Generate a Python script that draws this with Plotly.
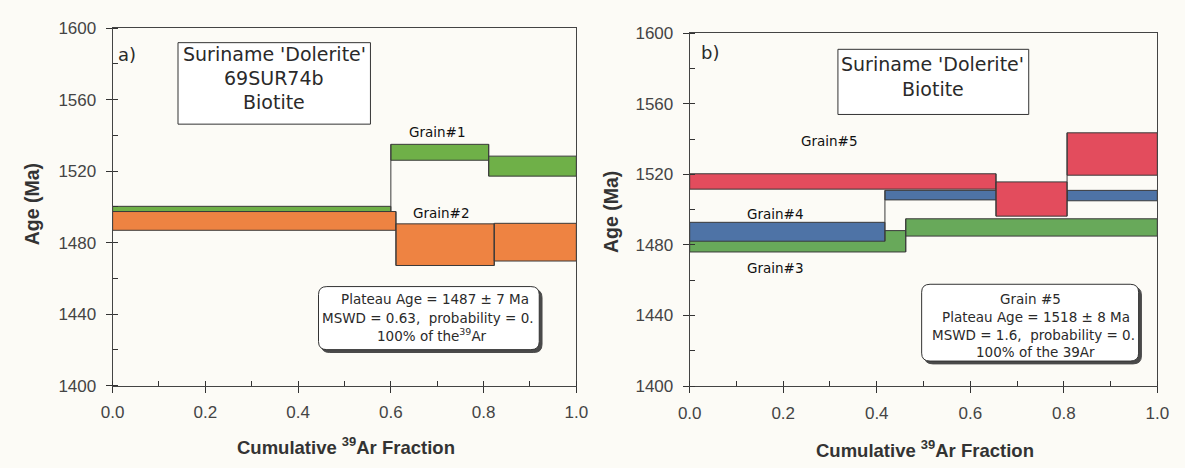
import plotly.graph_objects as go

# ---------------- data ----------------
# Panel a) 69SUR74b biotite
a_g1_edges = [0.0, 0.600, 0.811, 1.0]
a_g1_hi = [1500.3, 1535.0, 1528.4]
a_g1_lo = [1497.4, 1526.1, 1517.2]
a_g2_edges = [0.0, 0.611, 0.823, 1.0]
a_g2_hi = [1497.4, 1490.5, 1490.8]
a_g2_lo = [1486.9, 1467.2, 1469.7]

# Panel b) biotite grains 3, 4, 5
b_g3_edges = [0.0, 0.462, 1.0]
b_g3_hi = [1488.1, 1494.8]
b_g3_lo = [1476.0, 1485.0]
b_g4_edges = [0.0, 0.4175, 0.807, 1.0]
b_g4_hi = [1492.8, 1510.9, 1510.9]
b_g4_lo = [1482.1, 1505.5, 1505.0]
b_g5_edges = [0.0, 0.655, 0.807, 1.0]
b_g5_hi = [1520.3, 1515.7, 1543.5]
b_g5_lo = [1511.6, 1496.3, 1519.5]

x_tick_vals = [0.0, 0.2, 0.4, 0.6, 0.8, 1.0]
x_tick_text = ["0.0", "0.2", "0.4", "0.6", "0.8", "1.0"]
y_tick_vals = [1400, 1440, 1480, 1520, 1560, 1600]
y_tick_text = ["1400", "1440", "1480", "1520", "1560", "1600"]

a_box_lines = ["Suriname 'Dolerite'", "69SUR74b", "Biotite"]
b_box_lines = ["Suriname 'Dolerite'", "Biotite"]
a_plateau_lines = ["Plateau Age = 1487 ± 7 Ma", "MSWD = 0.63,  probability = 0.",
                   "100% of the<sup>39</sup>Ar"]
b_plateau_lines = ["Grain #5", "Plateau Age = 1518 ± 8 Ma", "MSWD = 1.6,  probability = 0.",
                   "100% of the 39Ar"]

GREEN_A = "#6fb048"
ORANGE = "#ee8342"
RED = "#e34c5d"
BLUE = "#4e73a6"
GREEN_B = "#68a95a"
EDGE = "#3a3a3a"
PAPER = "#fcfbf6"

BOXFONT = "DejaVu Sans"
AXFONT = "Liberation Sans, Arial, sans-serif"

fig = go.Figure()


def add_spectrum(edges, hi, lo, color, xa, ya):
    for i in range(len(hi)):
        x0, x1 = edges[i], edges[i + 1]
        fig.add_trace(go.Scatter(
            x=[x0, x1, x1, x0, x0], y=[lo[i], lo[i], hi[i], hi[i], lo[i]],
            mode="lines", fill="toself", fillcolor=color,
            line=dict(color=EDGE, width=1), xaxis=xa, yaxis=ya,
            hoverinfo="skip", showlegend=False))
    cx, cy = [], []
    for i in range(1, len(hi)):
        cx += [edges[i], edges[i], None]
        cy += [min(lo[i - 1], lo[i]), max(hi[i - 1], hi[i]), None]
    fig.add_trace(go.Scatter(x=cx, y=cy, mode="lines",
                             line=dict(color=EDGE, width=1), xaxis=xa, yaxis=ya,
                             hoverinfo="skip", showlegend=False))


add_spectrum(a_g2_edges, a_g2_hi, a_g2_lo, ORANGE, "x", "y")
add_spectrum(a_g1_edges, a_g1_hi, a_g1_lo, GREEN_A, "x", "y")
add_spectrum(b_g3_edges, b_g3_hi, b_g3_lo, GREEN_B, "x2", "y2")
add_spectrum(b_g4_edges, b_g4_hi, b_g4_lo, BLUE, "x2", "y2")
add_spectrum(b_g5_edges, b_g5_hi, b_g5_lo, RED, "x2", "y2")

shapes = []
annotations = []


def rounded_rect(x0, x1, y0, y1, rx, ry):
    return (f"M {x0+rx},{y0} L {x1-rx},{y0} Q {x1},{y0} {x1},{y0+ry} "
            f"L {x1},{y1-ry} Q {x1},{y1} {x1-rx},{y1} L {x0+rx},{y1} "
            f"Q {x0},{y1} {x0},{y1-ry} L {x0},{y0+ry} Q {x0},{y0} {x0+rx},{y0} Z")


def plateau_box(xr, yr, x0, x1, y0, y1):
    rx, ry = 0.018, 4.5
    dx, dy = 0.006, 1.6
    shapes.append(dict(type="path", xref=xr, yref=yr,
                       path=rounded_rect(x0 + dx, x1 + dx, y0 - dy, y1 - dy, rx, ry),
                       fillcolor="#4a4a4a", line=dict(color="#4a4a4a", width=1)))
    shapes.append(dict(type="path", xref=xr, yref=yr,
                       path=rounded_rect(x0, x1, y0, y1, rx, ry),
                       fillcolor="white", line=dict(color="#333333", width=1)))


def text(xr, yr, x, y, s, size, font=BOXFONT, color="#2a2a2a"):
    annotations.append(dict(xref=xr, yref=yr, x=x, y=y, text=s, showarrow=False,
                            font=dict(family=font, size=size, color=color),
                            xanchor="center", yanchor="middle"))


GRAIN_COLOR = "#111111"

# ---- panel a decorations ----
shapes.append(dict(type="rect", xref="x", yref="y", x0=0.141, x1=0.556, y0=1546.3, y1=1591.9,
                   fillcolor="white", line=dict(color="#333333", width=1)))
for s, yy in zip(a_box_lines, [1585.5, 1572.1, 1558.7]):
    text("x", "y", 0.349, yy, s, 19)
text("x", "y", 0.031, 1585.5, "a)", 18)
text("x", "y", 0.700, 1542.0, "Grain#1", 13.5, color=GRAIN_COLOR)
text("x", "y", 0.709, 1496.5, "Grain#2", 13.5, color=GRAIN_COLOR)
plateau_box("x", "y", 0.444, 0.920, 1420.1, 1455.4)
for s, xx, yy in zip(a_plateau_lines, [0.695, 0.680, 0.689], [1448.2, 1438.0, 1428.2]):
    text("x", "y", xx, yy, s, 13.5)

# ---- panel b decorations ----
shapes.append(dict(type="rect", xref="x2", yref="y2", x0=0.317, x1=0.725, y0=1553.9, y1=1590.8,
                   fillcolor="white", line=dict(color="#333333", width=1)))
for s, yy in zip(b_box_lines, [1582.6, 1568.5]):
    text("x2", "y2", 0.52, yy, s, 19)
text("x2", "y2", 0.043, 1589.0, "b)", 18)
text("x2", "y2", 0.30, 1539.0, "Grain#5", 13.5, color=GRAIN_COLOR)
text("x2", "y2", 0.183, 1497.7, "Grain#4", 13.5, color=GRAIN_COLOR)
text("x2", "y2", 0.183, 1467.0, "Grain#3", 13.5, color=GRAIN_COLOR)
plateau_box("x2", "y2", 0.496, 0.960, 1414.2, 1457.7)
for s, xx, yy in zip(b_plateau_lines, [0.728, 0.741, 0.735, 0.740],
                     [1449.1, 1439.3, 1429.2, 1419.5]):
    text("x2", "y2", xx, yy, s, 13.5)

# axis titles
for xx, yy in [(20 / 1185, 1 - 204 / 468), (612 / 1185, 1 - 212 / 468)]:
    annotations.append(dict(xref="paper", yref="paper", x=xx, y=yy, text="<b>Age (Ma)</b>",
                            showarrow=False, textangle=-90, xanchor="center", yanchor="middle",
                            font=dict(family=AXFONT, size=19.5, color="#333333")))
for xx, yy in [(341 / 1185, 1 - 456 / 468), (932 / 1185, 1 - 459 / 468)]:
    annotations.append(dict(xref="paper", yref="paper", x=xx, y=yy,
                            text="<b>Cumulative <sup>39</sup>Ar Fraction</b>",
                            showarrow=False, xanchor="center", yanchor="middle",
                            font=dict(family=AXFONT, size=18.5, color="#333333")))

xaxis_common = dict(range=[0, 1], tickvals=x_tick_vals, ticktext=x_tick_text,
                    ticks="outside", ticklen=6, tickcolor="#333", showgrid=False,
                    zeroline=False, showline=True, linecolor="#444", linewidth=1,
                    mirror=True, ticklabelstandoff=5,
                    minor=dict(dtick=0.1, ticks="inside", ticklen=5, tickcolor="#333"),
                    tickfont=dict(family=AXFONT, size=17, color="#444"))
yaxis_common = dict(range=[1400, 1600], tickvals=y_tick_vals, ticktext=y_tick_text,
                    ticks="outside", ticklen=6, tickcolor="#333", showgrid=False,
                    zeroline=False, showline=True, linecolor="#444", linewidth=1,
                    mirror=True, ticklabelstandoff=6,
                    minor=dict(dtick=20, ticks="inside", ticklen=5, tickcolor="#333"),
                    tickfont=dict(family=AXFONT, size=17, color="#444"))

fig.update_layout(
    width=1185, height=468,
    margin=dict(l=0, r=0, t=0, b=0),
    paper_bgcolor=PAPER, plot_bgcolor=PAPER,
    showlegend=False,
    xaxis=dict(domain=[102.7 / 1185, 576 / 1185], anchor="y", **xaxis_common),
    yaxis=dict(domain=[1 - 392.5 / 468, 1 - 20 / 468], anchor="x", **yaxis_common),
    xaxis2=dict(domain=[691.7 / 1185, 1169 / 1185], anchor="y2", **xaxis_common),
    yaxis2=dict(domain=[1 - 393.1 / 468, 1 - 25.1 / 468], anchor="x2", **yaxis_common),
    shapes=shapes,
    annotations=annotations,
)

fig.write_html("out.html")
